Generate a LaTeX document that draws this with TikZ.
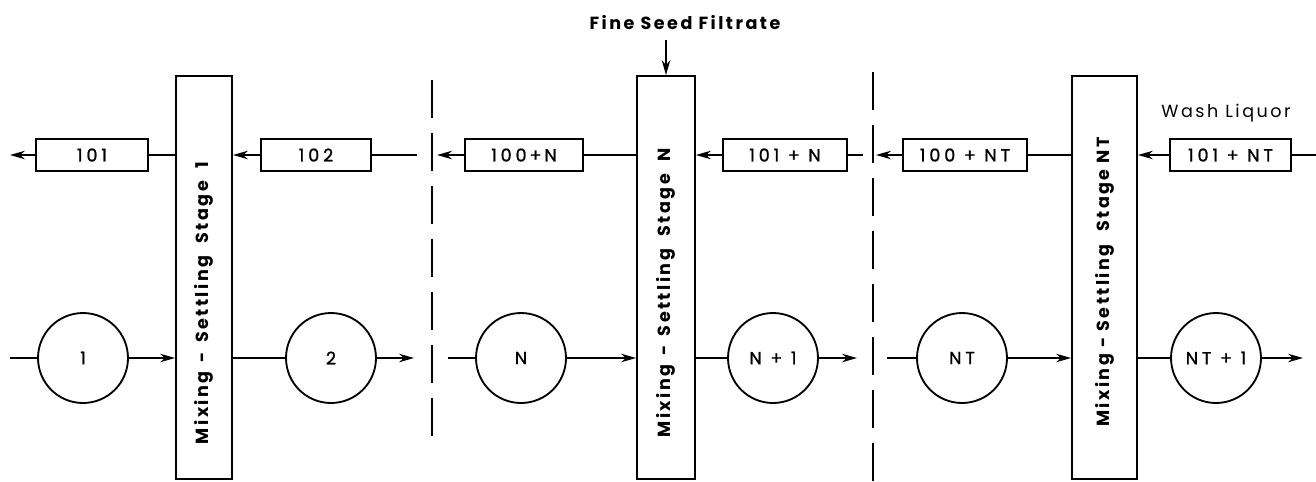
\documentclass[tikz,border=0pt]{standalone}
\usepackage{fontspec}
\setsansfont{Poppins}
\newfontfamily\lettering[LetterSpace=14]{Poppins}
\newfontfamily\boxlettering[LetterSpace=22, FakeBold=1.2]{Poppins}
\usepackage{tikz}
\usetikzlibrary{arrows.meta,calc}

\begin{document}
\begin{tikzpicture}[x=0.02cm, y=-0.02cm, line width=1.05pt,
    every node/.style={font=\boxlettering\fontsize{10}{12}\selectfont},
    stage/.style={draw, rectangle, inner sep=0pt, minimum height=8.06cm},
    stagetext/.style={rotate=90, font=\lettering\bfseries\fontsize{10}{12}\selectfont},
    flowbox/.style={draw, rectangle, inner sep=0pt, minimum height=0.64cm},
    tank/.style={draw, circle, inner sep=0pt, minimum size=1.8cm},
    flow/.style={-{Stealth[length=3mm,width=1.7mm]}},
    sep/.style={dash pattern=on 0.76cm off 0.3cm}
]
\useasboundingbox (0,0) rectangle (1316,481);

% ---- STAGE 1 ----
\node[stage, minimum width=1.12cm] (st1) at (204,277.5) {};
\node[stagetext] (st1txt) at (204,303) {Mixing \,-\, Settling \ Stage \ 1};
\node[flowbox, minimum width=2.24cm] (t101) at (92,155) {101};
\node[flowbox, minimum width=2.2cm] (t102) at (316,155) {102};
\node[tank] (c1) at (83,358) {1};
\node[tank] (c2) at (331,358) {2};
\coordinate (out1) at (10,155);
\coordinate (feed1) at (10,358);
\coordinate (end102) at (417,155);
\coordinate (end2) at (414,358);
\draw[flow] (t101) -- (out1);
\draw (st1.west |- t101) -- (t101);
\draw[flow] (t102) -- (st1.east |- t102);
\draw (t102) -- (end102);
\draw (feed1) -- (c1);
\draw[flow] (c1) -- (st1.west |- c1);
\draw (st1.east |- c2) -- (c2);
\draw[flow] (c2) -- (end2);

% separator 1
\coordinate (d1top) at (432,80);
\coordinate (d1bot) at (432,448);
\draw[sep] (d1top) -- (d1bot);

% ---- STAGE N ----
\node[font=\lettering\bfseries\fontsize{10}{12}\selectfont] (fine) at (685,23) {Fine Seed Filtrate};
\node[stage, minimum width=1.16cm] (stN) at (666,277.5) {};
\node[stagetext] (stNtxt) at (666,293) {Mixing \,-\, Settling \ Stage \ N};
\node[flowbox, minimum width=2.36cm] (t100N) at (524,155) {100\,+\,N};
\node[flowbox, minimum width=2.48cm] (t101N) at (785,155) {101 + N};
\node[tank] (cN) at (521,358) {N};
\node[tank] (cN1) at (773,358) {N + 1};
\coordinate (fineend) at (666,40);
\coordinate (outN) at (437,155);
\coordinate (feedN) at (448,358);
\coordinate (end101N) at (863,155);
\coordinate (endN1) at (857,358);
\draw[flow] (fineend) -- (stN.north);
\draw[flow] (t100N) -- (outN);
\draw (stN.west |- t100N) -- (t100N);
\draw[flow] (t101N) -- (stN.east |- t101N);
\draw (t101N) -- (end101N);
\draw (feedN) -- (cN);
\draw[flow] (cN) -- (stN.west |- cN);
\draw (stN.east |- cN1) -- (cN1);
\draw[flow] (cN1) -- (endN1);

% separator 2
\coordinate (d2top) at (873,72);
\coordinate (d2bot) at (873,481);
\draw[sep] (d2top) -- (d2bot);

% ---- STAGE NT ----
\node[font=\lettering\fontsize{10}{12}\selectfont] (wash) at (1226,113) {Wash Liquor};
\node[stage, minimum width=1.3cm] (stNT) at (1104.5,277.5) {};
\node[stagetext] (stNTtxt) at (1104.5,282) {Mixing - Settling \ Stage NT};
\node[flowbox, minimum width=2.48cm] (t100NT) at (965,155) {100 + NT};
\node[flowbox, minimum width=2.42cm] (t101NT) at (1230.5,155) {101 + NT};
\node[tank] (cNT) at (962,358) {NT};
\node[tank] (cNT1) at (1216,358) {NT + 1};
\coordinate (outNT) at (876,155);
\coordinate (feedNT) at (887,358);
\coordinate (washin) at (1316,155);
\coordinate (endNT1) at (1303,358);
\draw[flow] (t100NT) -- (outNT);
\draw (stNT.west |- t100NT) -- (t100NT);
\draw[flow] (t101NT) -- (stNT.east |- t101NT);
\draw (washin) -- (t101NT);
\draw (feedNT) -- (cNT);
\draw[flow] (cNT) -- (stNT.west |- cNT);
\draw (stNT.east |- cNT1) -- (cNT1);
\draw[flow] (cNT1) -- (endNT1);
\end{tikzpicture}
\end{document}
